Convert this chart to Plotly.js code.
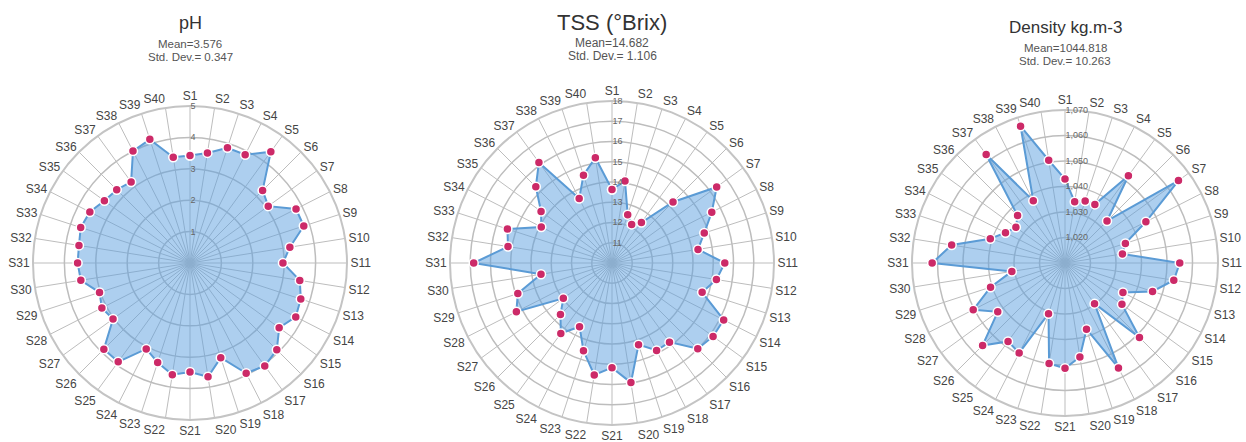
<!DOCTYPE html>
<html>
<head>
<meta charset="utf-8">
<script src="https://cdn.plot.ly/plotly-3.0.1.min.js"></script>
<style>
  html, body { margin: 0; padding: 0; background: #fff; }
  #chart { width: 1246px; height: 442px; }
</style>
</head>
<body>
<div id="chart"></div>
<script>
// Samples S1..S40
const samples = Array.from({length: 40}, (_, i) => 'S' + (i + 1));

// pH per sample
const phValues = [
  3.42, 3.55, 3.86, 3.87, 4.38, 3.27, 3.08, 3.79, 3.81, 3.22,
  2.96, 3.54, 3.71, 3.78, 3.51, 3.91, 4.05, 3.94, 3.17, 3.67,
  3.47, 3.60, 3.33, 3.07, 3.89, 3.88, 3.03, 3.15, 3.03, 3.52,
  3.58, 3.58, 3.66, 3.58, 3.37, 3.30, 3.19, 4.00, 4.14, 3.41
];

// Total soluble solids (°Brix) per sample
const tssValues = [
  13.63, 14.10, 12.51, 12.14, 12.47, 14.26, 16.39, 15.53, 14.79, 14.30,
  15.57, 15.22, 14.68, 16.19, 16.17, 15.99, 14.83, 14.85, 14.24, 15.98,
  15.17, 15.60, 14.56, 13.53, 14.30, 13.60, 12.97, 15.30, 14.89, 13.55,
  16.83, 15.20, 15.43, 13.92, 14.33, 15.32, 16.14, 13.57, 14.56, 15.26
];

// Density (kg.m-3) per sample
const densityValues = [
  1042.9, 1034.3, 1035.6, 1035.8, 1052.3, 1033.3, 1065.0, 1045.6, 1034.9, 1032.8,
  1055.0, 1053.2, 1046.1, 1035.5, 1037.6, 1051.3, 1029.7, 1056.2, 1037.3, 1047.3,
  1051.3, 1049.9, 1030.9, 1049.6, 1048.0, 1055.7, 1042.6, 1050.4, 1040.7, 1031.1,
  1062.1, 1055.0, 1040.8, 1036.2, 1033.8, 1036.3, 1062.6, 1037.4, 1066.4, 1050.8
];

// Radial ticks of each chart
const phTicks = [1, 2, 3, 4, 5];
const tssTicks = [11, 12, 13, 14, 15, 16, 17, 18];
const densityTicks = [1020, 1030, 1040, 1050, 1060, 1070];

// Chart headings and summary lines
const titles = ['pH', 'TSS (°Brix)', 'Density kg.m-3'];
const meanLines = ['Mean=3.576', 'Mean=14.682', 'Mean=1044.818'];
const sdLines = ['Std. Dev.= 0.347', 'Std. Dev.= 1.106', 'Std. Dev.= 10.263'];

const W = 1246, H = 442;
const FONT = 'Liberation Sans, Arial, sans-serif';
const GRID = '#bdbdbd';
const LINE = '#5b9bd5';
const FILL = 'rgba(92,160,224,0.5)';
const DOT = '#cc2a68';

// Polygon closed back onto the first sample
function radarTrace(values, subplot) {
  return {
    type: 'scatterpolar',
    subplot: subplot,
    r: values.concat([values[0]]),
    theta: samples.concat([samples[0]]),
    mode: 'lines+markers',
    fill: 'toself',
    fillcolor: FILL,
    line: {color: LINE, width: 2},
    marker: {color: DOT, size: 9, line: {color: '#fff', width: 1.5}},
    showlegend: false,
    hoverinfo: 'r+theta'
  };
}

// Square domain from a centre and radius in pixels
function domainFor(cx, cy, R) {
  return {
    x: [(cx - R) / W, (cx + R) / W],
    y: [1 - (cy + R) / H, 1 - (cy - R) / H]
  };
}

function polarLayout(dom, range, ticks, fmt) {
  return {
    domain: dom,
    bgcolor: '#fff',
    angularaxis: {
      type: 'category',
      categoryarray: samples,
      direction: 'clockwise',
      rotation: 90,
      gridcolor: GRID,
      gridwidth: 1,
      showline: true,
      linecolor: '#c4c4c4',
      linewidth: 2,
      ticks: '',
      tickfont: {family: FONT, size: 12, color: '#444'}
    },
    radialaxis: {
      range: range,
      tickmode: 'array',
      tickvals: ticks,
      tickformat: fmt,
      angle: 90,
      tickangle: 90,
      showline: false,
      ticks: '',
      gridcolor: GRID,
      gridwidth: 1.5,
      tickfont: {family: FONT, size: 9, color: '#666'}
    }
  };
}

const data = [
  radarTrace(phValues, 'polar'),
  radarTrace(tssValues, 'polar2'),
  radarTrace(densityValues, 'polar3')
];

const centers = [190, 612, 1065];
const titleY = [23, 22, 27];
const titleSize = [18, 22, 17];
const meanY = [44, 43, 48];
const sdY = [57, 56, 61];
const subSize = [11.5, 12, 11.5];

const annotations = [];
function label(text, i, y, size, color) {
  annotations.push({
    text: text, x: centers[i] / W, y: 1 - y / H,
    xref: 'paper', yref: 'paper', xanchor: 'center', yanchor: 'middle',
    showarrow: false, font: {family: FONT, size: size, color: color}
  });
}
for (let i = 0; i < 3; i++) {
  label(titles[i], i, titleY[i], titleSize[i], '#333');
  label(meanLines[i], i, meanY[i], subSize[i], '#555');
  label(sdLines[i], i, sdY[i], subSize[i], '#555');
}

const layout = {
  width: W, height: H,
  margin: {l: 0, r: 0, t: 0, b: 0},
  paper_bgcolor: '#fff',
  showlegend: false,
  polar: polarLayout(domainFor(190, 263, 157), [0, 5], phTicks, ''),
  polar2: polarLayout(domainFor(612, 263, 162), [10, 18], tssTicks, ''),
  polar3: polarLayout(domainFor(1065, 263, 153), [1010, 1070], densityTicks, ','),
  annotations: annotations
};

Plotly.newPlot('chart', data, layout, {displayModeBar: false, staticPlot: true});
</script>
</body>
</html>
